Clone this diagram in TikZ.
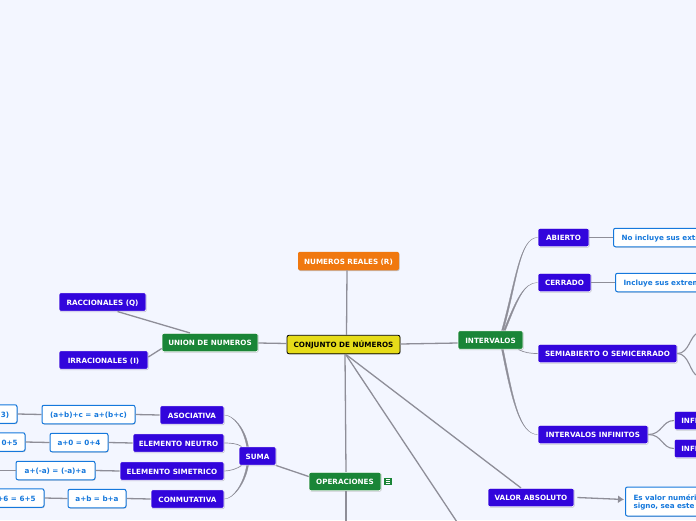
\documentclass[tikz,border=0pt]{standalone}
\usepackage{fontspec}
\setmainfont{DejaVu Sans}
\usetikzlibrary{shadows,arrows.meta}
\definecolor{pagebg}{HTML}{F3F6FF}
\definecolor{linegray}{HTML}{8E8E98}
\definecolor{topicblue}{HTML}{3205DC}
\definecolor{maingreen}{HTML}{1A8537}
\definecolor{realorange}{HTML}{F0780F}
\definecolor{rootyellow}{HTML}{E6DC19}
\definecolor{noteblue}{HTML}{1578DC}
\tikzset{
  mapnode/.style={rectangle,rounded corners=2pt,inner sep=0pt,minimum height=18.5pt,text height=7.6pt,text depth=1pt,font=\fontsize{7.2}{8}\selectfont\bfseries,
    drop shadow={shadow xshift=0.6pt,shadow yshift=-0.8pt,opacity=0.35,fill=black!60}},
  subnode/.style={mapnode,fill=topicblue,draw=white,line width=0.6pt,text=white},
  mainnode/.style={mapnode,fill=maingreen,draw=white,line width=0.6pt,text=white},
  orangenode/.style={mapnode,fill=realorange,draw=none,text=white,drop shadow={opacity=0}},
  rootnode/.style={mapnode,fill=rootyellow,draw=black,line width=0.8pt,text=black},
  notenode/.style={mapnode,fill=white,draw=noteblue,line width=1pt,text=noteblue},
  cutnode/.style={anchor=west,align=left,inner xsep=8pt,text width=130pt},
  link/.style={draw=linegray,line width=1.3pt},
  branch/.style={draw=linegray,line width=1.1pt},
  taper/.style={fill=linegray,draw=linegray,line width=0.3pt}
}
\newcommand{\taperline}[4]{\path[taper] ([xshift=-0.9pt]#1) .. controls +#2 and +#3 .. (#4) .. controls +#3 and +#2 .. ([xshift=0.9pt]#1) -- cycle;}
\begin{document}
\begin{tikzpicture}[x=1pt,y=-1pt]
\useasboundingbox (0,0) rectangle (696,520);
\clip (0,0) rectangle (696,520);
\fill[pagebg] (0,0) rectangle (696,520);

\node[rootnode,minimum width=113pt] (conjunto) at (343.5,344.5) {CONJUNTO DE NÚMEROS};
\node[orangenode,minimum width=101pt] (reales) at (348.5,261) {NUMEROS REALES (R)};
\node[mainnode,minimum width=96pt] (union) at (210,342.5) {UNION DE NUMEROS};
\node[subnode,minimum width=87pt] (raccionales) at (102.5,302) {RACCIONALES (Q)};
\node[subnode,minimum width=89pt] (irracionales) at (103.5,360) {IRRACIONALES (I)};

\node[mainnode,minimum width=72pt] (operaciones) at (345,481.5) {OPERACIONES};
\node[subnode,minimum width=37pt] (suma) at (257.5,456) {SUMA};
\node[subnode,minimum width=64pt] (asociativa) at (192,415) {ASOCIATIVA};
\node[subnode,minimum width=91pt] (neutro) at (178.5,443) {ELEMENTO NEUTRO};
\node[subnode,minimum width=104pt] (simetrico) at (172,471) {ELEMENTO SIMETRICO};
\node[subnode,minimum width=73pt] (conmutativa) at (187.5,499) {CONMUTATIVA};

\node[notenode,minimum width=93pt] (asocformula) at (88.5,414.5) {(a+b)+c = a+(b+c)};
\node[notenode,minimum width=58pt] (neutroformula) at (79,442.5) {a+0 = 0+4};
\node[notenode,minimum width=79pt] (simetformula) at (55.5,470.5) {a+(-a) = (-a)+a};
\node[notenode,minimum width=58pt] (conmutformula) at (97,498.5) {a+b = b+a};

\node[notenode,anchor=east,minimum width=94pt] (asocejemplo) at (17.5,414) {(5+4)+3 = 5+(4+3)};
\node[notenode,anchor=east,minimum width=58pt] (neutroejemplo) at (25.5,442) {5+0 = 0+5};
\node[notenode,anchor=east,minimum width=60pt] (conmutejemplo) at (44.5,498) {5+6 = 6+5};
\coordinate (simetejemplo) at (-2,470.5);
\coordinate (operacionesbajo) at (346,522);
\coordinate (conjuntobajo) at (457,522);

\node[mainnode,minimum width=65pt] (intervalos) at (490.5,340) {INTERVALOS};
\node[subnode,minimum width=51pt] (abierto) at (563.5,237.5) {ABIERTO};
\node[subnode,minimum width=53pt] (cerrado) at (564.5,282.5) {CERRADO};
\node[subnode,minimum width=139pt] (semiabierto) at (607.5,353.5) {SEMIABIERTO O SEMICERRADO};
\node[subnode,minimum width=110pt] (infinitos) at (593,434.5) {INTERVALOS INFINITOS};
\node[notenode,cutnode] (abiertonota) at (613,237.5) {No incluye sus extremos};
\node[notenode,cutnode] (cerradonota) at (615,282.5) {Incluye sus extremos};
\node[subnode,cutnode,inner xsep=7pt] (infarriba) at (674,420.5) {INFINITO};
\node[subnode,cutnode,inner xsep=7pt] (infabajo) at (674,448.5) {INFINITO};
\coordinate (semiarriba) at (698,333);
\coordinate (semiabajo) at (698,376);

\node[subnode,minimum width=86pt] (valor) at (531,497.5) {VALOR ABSOLUTO};
\node[notenode,cutnode,minimum height=29pt,text height=6pt,text depth=9pt] (valornota) at (625,501.5) {Es valor numérico sin\\signo, sea este positivo};

\coordinate (sumaarriba) at ([xshift=-10pt]suma.north);
\coordinate (sumaabajo) at ([xshift=-10pt]suma.south);
\coordinate (interabierto) at ([xshift=12pt]intervalos.north);
\coordinate (intercerrado) at ([xshift=14pt]intervalos.north);
\coordinate (interinfinito) at ([xshift=12pt]intervalos.south);

\node[fill=maingreen,minimum size=7.5pt,inner sep=0pt] (notas) at (388,481.5) {};
\draw[white,line width=0.6pt] ([xshift=-2.2pt,yshift=1.8pt]notas.center) -- ([xshift=2.2pt,yshift=1.8pt]notas.center);
\draw[white,line width=0.6pt] ([xshift=-2.2pt]notas.center) -- ([xshift=2.2pt]notas.center);
\draw[white,line width=0.6pt] ([xshift=-2.2pt,yshift=-1.8pt]notas.center) -- ([xshift=2.2pt,yshift=-1.8pt]notas.center);

\draw[link] ([xshift=3pt]conjunto.north) -- ([xshift=-1.5pt]reales.south);
\draw[link] ([yshift=1pt]conjunto.west) -- ([yshift=-0.5pt]union.east);
\draw[link] ([yshift=0.5pt]conjunto.east) -- ([yshift=-3pt]intervalos.west);
\draw[link] ([xshift=1.5pt]conjunto.south) -- ([xshift=1pt]operaciones.north);
\draw[link] ([xshift=2pt]conjunto.south) -- (conjuntobajo);
\draw[link] ([xshift=2pt]conjunto.south) -- ([xshift=-10pt]valor.north);
\draw[link] ([xshift=1pt]operaciones.south) -- (operacionesbajo);
\draw[link] ([yshift=5pt]operaciones.west) -- (suma.south east);
\draw[link] ([xshift=15pt]raccionales.south) -- ([xshift=-20pt]union.north);
\draw[link] ([yshift=3pt]irracionales.east) -- ([yshift=-6pt]union.west);

\taperline{sumaarriba}{(-3,-18)}{(9,0)}{asociativa.east}
\draw[branch,line width=0.7pt] ([xshift=-16pt]suma.north) .. controls +(-4,-3) and +(6,0) .. (neutro.east);
\draw[branch,line width=0.7pt] ([xshift=-16pt]suma.south) .. controls +(-4,3) and +(6,0) .. (simetrico.east);
\taperline{sumaabajo}{(-3,18)}{(9,0)}{conmutativa.east}

\draw[link] (asociativa.west) -- (asocformula.east);
\draw[link] (neutro.west) -- (neutroformula.east);
\draw[link] (simetrico.west) -- (simetformula.east);
\draw[link] (conmutativa.west) -- (conmutformula.east);
\draw[link] (asocformula.west) -- (asocejemplo.east);
\draw[link] (neutroformula.west) -- (neutroejemplo.east);
\draw[link] (simetformula.west) -- (simetejemplo);
\draw[link] (conmutformula.west) -- (conmutejemplo.east);

\taperline{interabierto}{(14,-50)}{(-18,0)}{abierto.west}
\taperline{intercerrado}{(12,-30)}{(-14,0)}{cerrado.west}
\draw[branch,line width=0.7pt] ([xshift=28pt]intervalos.south) .. controls +(6,3) and +(-8,0) .. (semiabierto.west);
\taperline{interinfinito}{(10,50)}{(-18,0)}{infinitos.west}

\draw[link] (abierto.east) -- (abiertonota.west);
\draw[link] (cerrado.east) -- (cerradonota.west);
\draw[branch] (semiabierto.east) .. controls +(12,0) and +(-8,2) .. (semiarriba);
\draw[branch] (semiabierto.east) .. controls +(12,0) and +(-8,-2) .. (semiabajo);
\draw[branch] (infinitos.east) .. controls +(14,0) and +(-12,0) .. (infarriba.west);
\draw[branch] (infinitos.east) .. controls +(14,0) and +(-12,0) .. (infabajo.west);

\draw[link,-{Latex[length=6pt,width=8pt]}] ([xshift=3pt]valor.east) -- ([yshift=2pt,xshift=-1pt]valornota.west);
\end{tikzpicture}
\end{document}
